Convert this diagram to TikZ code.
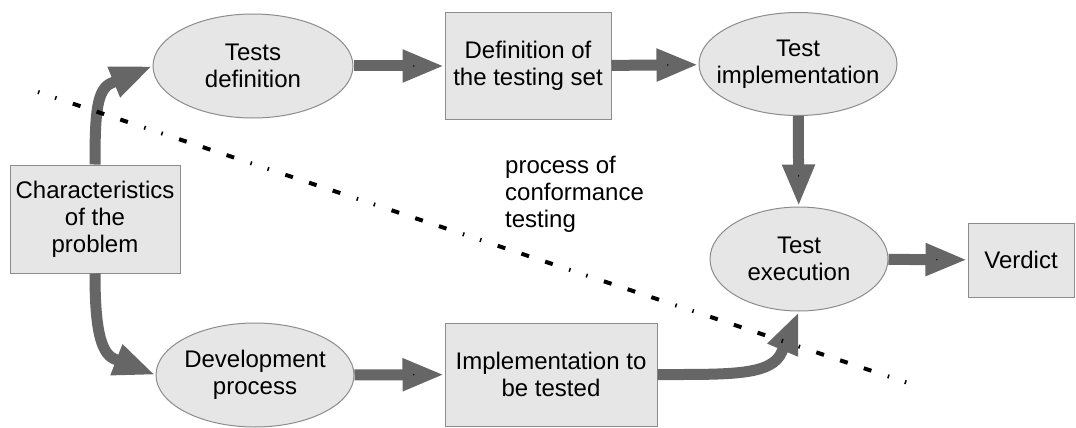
\documentclass[tikz,border=0pt]{standalone}
\usepackage{fontspec}
\setmainfont{Liberation Sans}
\usetikzlibrary{shapes.geometric,arrows.meta}

\definecolor{shapefill}{HTML}{E6E6E6}
\definecolor{shapeline}{HTML}{8C8C8C}
\definecolor{flowgray}{HTML}{666666}

\begin{document}
\begin{tikzpicture}[x=1pt, y=1pt, font=\fontsize{24}{27}\selectfont,
    stage/.style={ellipse, draw=shapeline, fill=shapefill, line width=1pt, inner sep=0pt, inner xsep=-14pt, align=center},
    block/.style={rectangle, draw=shapeline, fill=shapefill, line width=1pt, inner sep=0pt, align=center},
    flow/.style={draw=flowgray, line width=11pt, line join=round, -{Triangle[length=42pt, width=30pt]}},
    cut/.style={line width=4pt, dash pattern=on 1.5pt off 16.5pt on 1.5pt off 17.25pt on 8pt off 17pt on 8pt off 17pt on 8pt off 17.25pt}]

    \useasboundingbox (0,0) rectangle (1076,-428);

    \node[block, minimum width=170pt, minimum height=108pt] (cp) at (95,-219) {Characteristics\\of the\\problem};
    \node[stage, minimum width=200pt, minimum height=104pt] (td) at (253,-66) {Tests\\definition};
    \node[block, minimum width=166pt, minimum height=107pt] (ts) at (528,-66) {Definition of\\the testing set};
    \node[stage, minimum width=198pt, minimum height=103pt] (ti) at (798,-64) {Test\\implementation};
    \node[stage, minimum width=178pt, minimum height=104pt] (te) at (799,-259) {Test\\execution};
    \node[block, minimum width=106pt, minimum height=74pt] (vd) at (1021,-260) {Verdict};
    \node[stage, minimum width=198pt, minimum height=104pt] (dp) at (255,-375) {Development\\process};
    \node[block, minimum width=212pt, minimum height=103pt] (it) at (551,-374.5) {Implementation to\\be tested};

    \node[anchor=north west, inner sep=0pt, align=left] (lbl) at (505,-155.5) {process of\\conformance\\testing};

    \path[flow]
        (td) edge (ts)
        (ts) edge (ti)
        (ti) edge (te)
        (te) edge (vd)
        (dp) edge (it);

    \draw[flow] (cp.north) .. controls +(0,50) and +(-15,-6) .. ([shift={(-41,-17)}]td.west) -- (td.west);
    \draw[flow] (cp.south) .. controls +(0,-50) and +(-15,6) .. ([shift={(-41,16)}]dp.west) -- (dp.west);
    \draw[flow] (it.east) .. controls +(75,0) and +(-10,-24) .. ([shift={(-17,-40)}]te.south) -- (te.south);

    % border of the conformance testing part
    \coordinate (cutA) at (38,-92);
    \coordinate (cutB) at (914,-385);
    \draw[cut] (cutA) -- (cutB);
\end{tikzpicture}
\end{document}
